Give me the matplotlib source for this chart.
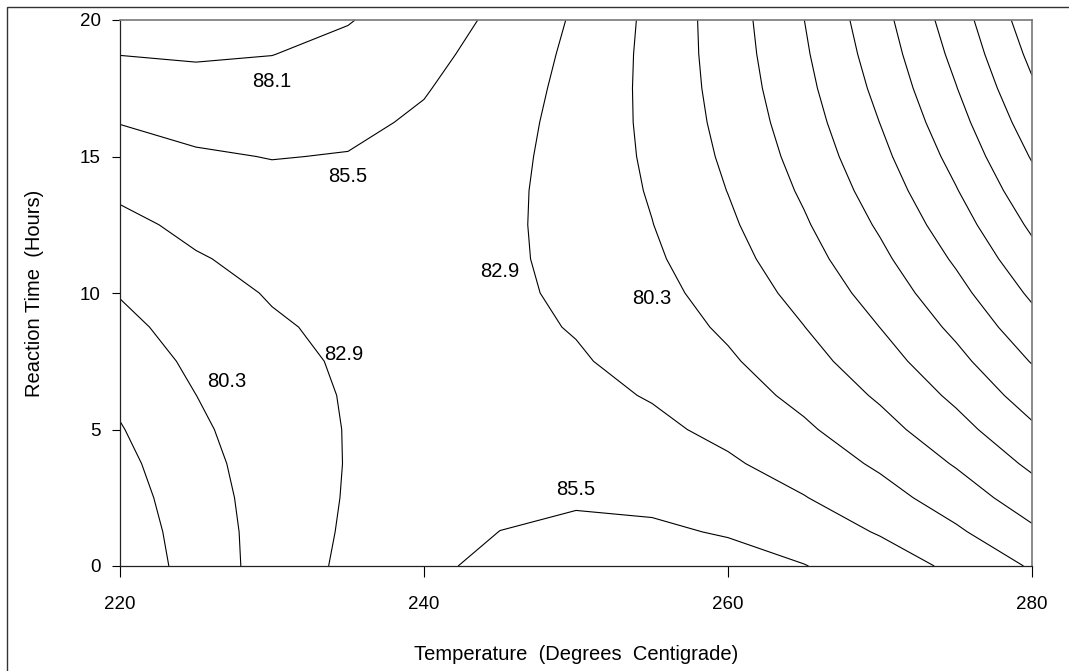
import numpy as np
import matplotlib.pyplot as plt
from matplotlib.patches import Rectangle

# grid the surface was read on (temperature columns, reaction time rows)
temps = [220, 225, 230, 235, 240, 245, 250, 255, 260, 265, 270, 275, 280]
times = [0, 1.25, 2.5, 3.75, 5, 6.25, 7.5, 8.75, 10,
         11.25, 12.5, 13.75, 15, 16.25, 17.5, 18.75, 20]

# estimated yield at each grid node, one row per reaction time
yield_grid = [
    [75.74, 78.79, 81.35, 83.43, 85.01, 86.10, 86.71, 86.82, 86.44, 85.58, 84.22, 82.37, 80.04],
    [76.09, 78.95, 81.33, 83.22, 84.62, 85.52, 85.94, 85.87, 85.31, 84.25, 82.71, 80.68, 78.15],
    [76.51, 79.19, 81.38, 83.08, 84.29, 85.01, 85.24, 84.99, 84.24, 83.00, 81.27, 79.05, 76.34],
    [76.99, 79.49, 81.49, 83.01, 84.03, 84.57, 84.61, 84.17, 83.23, 81.81, 79.90, 77.49, 74.60],
    [77.55, 79.86, 81.68, 83.01, 83.85, 84.19, 84.05, 83.42, 82.30, 80.69, 78.59, 76.00, 72.92],
    [78.17, 80.29, 81.93, 83.07, 83.72, 83.89, 83.56, 82.74, 81.43, 79.64, 77.35, 74.57, 71.31],
    [78.86, 80.80, 82.24, 83.20, 83.67, 83.64, 83.13, 82.13, 80.64, 78.65, 76.18, 73.22, 69.76],
    [79.62, 81.37, 82.63, 83.40, 83.68, 83.47, 82.77, 81.58, 79.90, 77.74, 75.08, 71.93, 68.29],
    [80.44, 82.01, 83.08, 83.67, 83.76, 83.37, 82.48, 81.11, 79.24, 76.89, 74.04, 70.71, 66.88],
    [81.33, 82.71, 83.60, 84.00, 83.91, 83.33, 82.26, 80.69, 78.64, 76.10, 73.07, 69.55, 65.54],
    [82.29, 83.48, 84.19, 84.40, 84.12, 83.36, 82.10, 80.35, 78.12, 75.39, 72.17, 68.46, 64.27],
    [83.32, 84.33, 84.84, 84.87, 84.41, 83.45, 82.01, 80.08, 77.65, 74.74, 71.34, 67.44, 63.06],
    [84.41, 85.23, 85.57, 85.41, 84.76, 83.62, 81.99, 79.87, 77.26, 74.16, 70.57, 66.49, 61.92],
    [85.57, 86.21, 86.35, 86.01, 85.17, 83.85, 82.03, 79.73, 76.93, 73.65, 69.87, 65.61, 60.85],
    [86.80, 87.25, 87.21, 86.68, 85.66, 84.15, 82.15, 79.66, 76.67, 73.20, 69.24, 64.79, 59.85],
    [88.15, 88.36, 88.14, 87.42, 86.21, 84.51, 82.33, 79.65, 76.48, 72.83, 68.68, 64.04, 58.91],
    [89.47, 89.54, 89.13, 88.23, 86.83, 84.95, 82.58, 79.71, 76.36, 72.52, 68.18, 63.36, 58.05],
]

contour_levels = [59.5, 62.1, 64.7, 67.3, 69.9, 72.5, 75.1, 77.7, 80.3, 82.9, 85.5, 88.1]

# which levels carry a label, and where the label sits
label_levels = [88.1, 85.5, 82.9, 80.3, 82.9, 80.3, 85.5]
label_spots = [(230, 17.75), (235, 14.25), (234.7, 7.75), (227, 6.75),
               (245, 10.8), (255, 9.8), (250, 2.8)]

xticks = [220, 240, 260, 280]
yticks = [0, 5, 10, 15, 20]

plt.rcParams['font.family'] = ['Liberation Sans', 'DejaVu Sans']

W, H = 1069, 671
fig = plt.figure(figsize=(W / 100, H / 100), dpi=100)
ax = fig.add_axes([120 / W, 1 - 566 / H, 912 / W, 546 / H])

ax.contour(temps, times, np.array(yield_grid), levels=contour_levels,
           colors='black', linewidths=0.8)

for lev, (x, y) in zip(label_levels, label_spots):
    ax.text(x, y, f'{lev:.1f}', ha='center', va='center', fontsize=14.5)

ax.set_xlim(220, 280)
ax.set_ylim(0, 20)
ax.set_xticks(xticks)
ax.set_yticks(yticks)
ax.tick_params(axis='x', length=8, pad=13.5, labelsize=13.5, width=0.8)
ax.tick_params(axis='y', length=6, pad=8, labelsize=13.5, width=0.8)

ax.set_xlabel('Temperature  (Degrees  Centigrade)', fontsize=14.5)
ax.xaxis.set_label_coords(0.5, (566 - 654) / 546)
ax.xaxis.label.set_va('center')
ax.set_ylabel('Reaction Time  (Hours)', fontsize=14.5)
ax.yaxis.set_label_coords((35 - 120) / 912, 0.5)
ax.yaxis.label.set_va('center')

for side in ['left', 'bottom']:
    ax.spines[side].set_color('#222222')
    ax.spines[side].set_linewidth(0.9)
for side in ['top', 'right']:
    ax.spines[side].set_color('#777777')
    ax.spines[side].set_linewidth(1.2)

# outer frame that runs off the right and bottom edges
fig.add_artist(Rectangle((7 / W, -0.1), 1.0, 1.1 - 7 / H, transform=fig.transFigure,
                         fill=False, edgecolor='#333333', linewidth=1.0))

fig.savefig('out.png', dpi=100)
